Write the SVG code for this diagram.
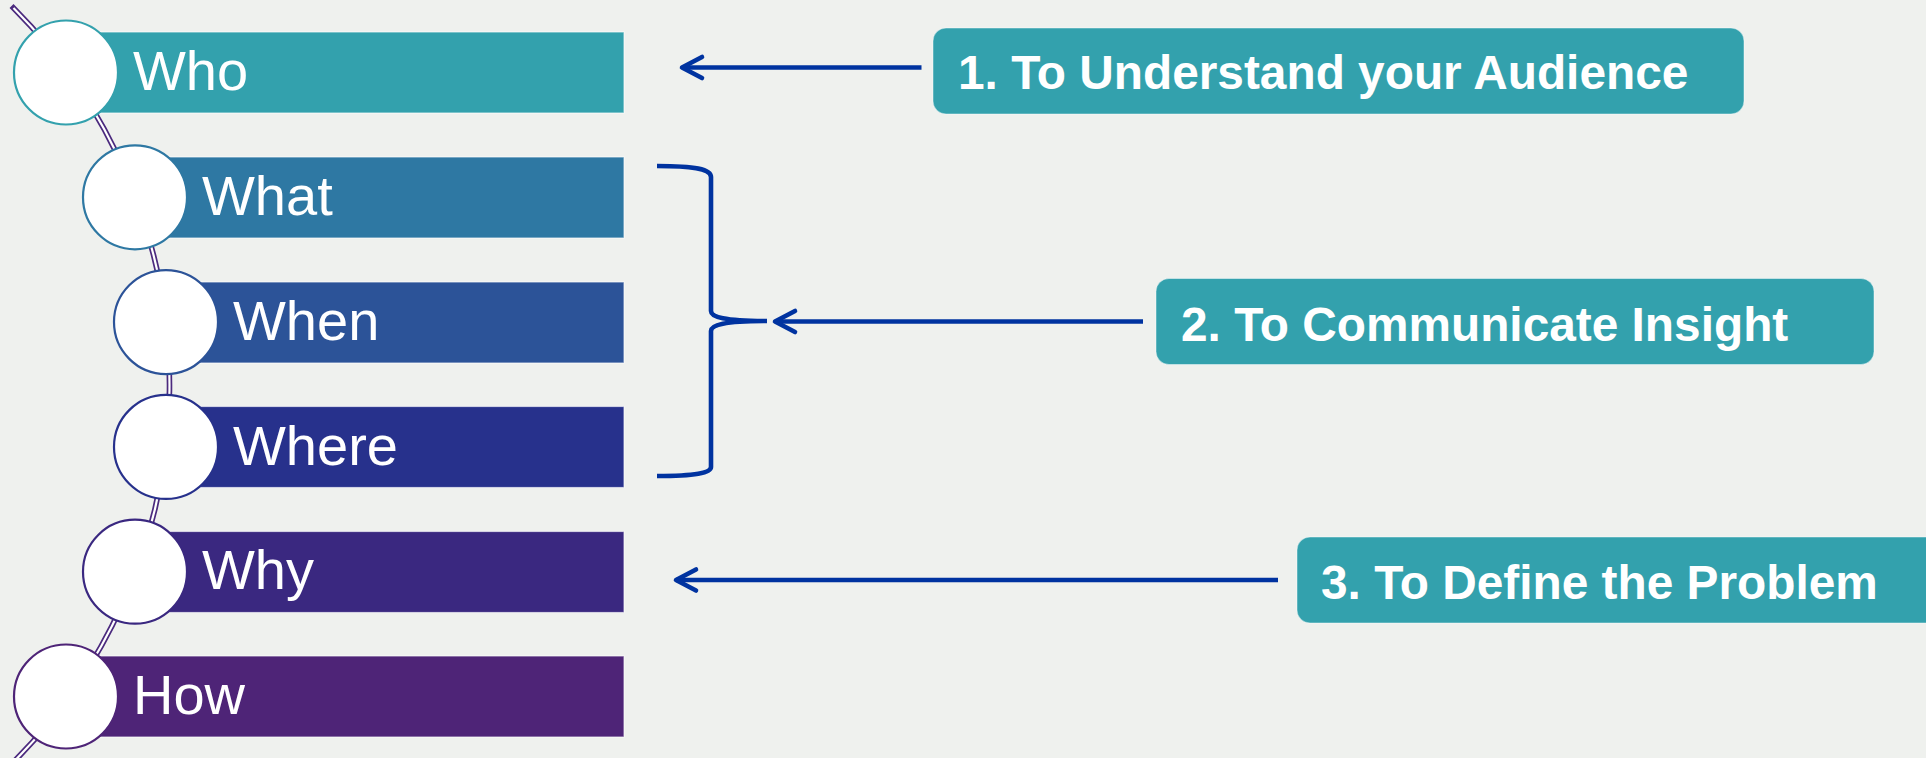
<svg xmlns="http://www.w3.org/2000/svg" width="1926" height="758" viewBox="0 0 1926 758">
  <style>
    .bar { stroke: #ffffff; stroke-opacity: 0.6; stroke-width: 1.2; }
    .bead { fill: #ffffff; stroke-width: 2.2; }
    .lbl { font-family: "Liberation Sans", Arial, sans-serif; font-size: 56px; fill: #ffffff; }
    .box { fill: #33A1AD; stroke: #ffffff; stroke-opacity: 0.45; stroke-width: 1; }
    .btxt { font-family: "Liberation Sans", Arial, sans-serif; font-size: 47.8px; font-weight: bold; fill: #ffffff; }
    .conn { fill: none; stroke: #0033A0; stroke-width: 4.6; }
  </style>
  <defs>
    <marker id="head" markerUnits="userSpaceOnUse" viewBox="-30 -20 40 40" markerWidth="40" markerHeight="40" refX="0" refY="0" orient="auto" overflow="visible">
      <path d="M-20,-10.5 L0,0 L-20,10.5" fill="none" stroke="#0033A0" stroke-width="4.6" stroke-linecap="round" stroke-linejoin="round"/>
    </marker>
  </defs>
  <rect x="0" y="0" width="1926" height="758" fill="#EFF1EE"/>

  <g id="arc">
    <path d="M13.5,8 A533.5,533.5 0 0 1 5.3,770" fill="none" stroke="#4B2A7E" stroke-width="5.6" stroke-linecap="square"/>
    <path d="M13.5,8 A533.5,533.5 0 0 1 5.3,770" fill="none" stroke="#ffffff" stroke-width="2.2"/>
  </g>

  <g id="who">
    <rect class="bar" x="66" y="32" width="558" height="81" fill="#33A1AD"/>
    <circle class="bead" cx="66" cy="72.5" r="52" stroke="#33A1AD"/>
    <text class="lbl" x="133" y="90">Who</text>
  </g>
  <g id="what">
    <rect class="bar" x="135" y="157" width="489" height="81" fill="#2E78A3"/>
    <circle class="bead" cx="135" cy="197.3" r="52" stroke="#2E78A3"/>
    <text class="lbl" x="202" y="215">What</text>
  </g>
  <g id="when">
    <rect class="bar" x="166" y="282" width="458" height="81" fill="#2C5398"/>
    <circle class="bead" cx="166" cy="322.1" r="52" stroke="#2C5398"/>
    <text class="lbl" x="233" y="340">When</text>
  </g>
  <g id="where">
    <rect class="bar" x="166" y="406.5" width="458" height="81" fill="#27318C"/>
    <circle class="bead" cx="166" cy="446.9" r="52" stroke="#27318C"/>
    <text class="lbl" x="233" y="465">Where</text>
  </g>
  <g id="why">
    <rect class="bar" x="135" y="531.5" width="489" height="81" fill="#3A2880"/>
    <circle class="bead" cx="135" cy="571.7" r="52" stroke="#3A2880"/>
    <text class="lbl" x="202" y="589">Why</text>
  </g>
  <g id="how">
    <rect class="bar" x="66" y="656" width="558" height="81" fill="#4E2477"/>
    <circle class="bead" cx="66" cy="696.5" r="52" stroke="#4E2477"/>
    <text class="lbl" x="133" y="714">How</text>
  </g>

  <g id="reason1">
    <rect class="box" x="933" y="28" width="811" height="86" rx="13"/>
    <text class="btxt" x="958" y="89">1. To Understand your Audience</text>
  </g>
  <g id="reason2">
    <rect class="box" x="1156" y="278.5" width="718" height="86" rx="13"/>
    <text class="btxt" x="1181" y="340.5">2. To Communicate Insight</text>
  </g>
  <g id="reason3">
    <rect class="box" x="1297" y="537" width="700" height="86" rx="13"/>
    <text class="btxt" x="1321" y="599">3. To Define the Problem</text>
  </g>

  <g id="connectors">
    <path class="conn" d="M657,166 C695,166 711,169 711,177 L711,311 C711,317 724,321 767,321 C724,321 711,325 711,331 L711,467 C711,473 695,476 657,476"/>
    <line class="conn" x1="921.5" y1="67.5" x2="682" y2="67.5" marker-end="url(#head)"/>
    <line class="conn" x1="1143" y1="321.5" x2="775" y2="321.5" marker-end="url(#head)"/>
    <line class="conn" x1="1278" y1="580" x2="676" y2="580" marker-end="url(#head)"/>
  </g>
</svg>
